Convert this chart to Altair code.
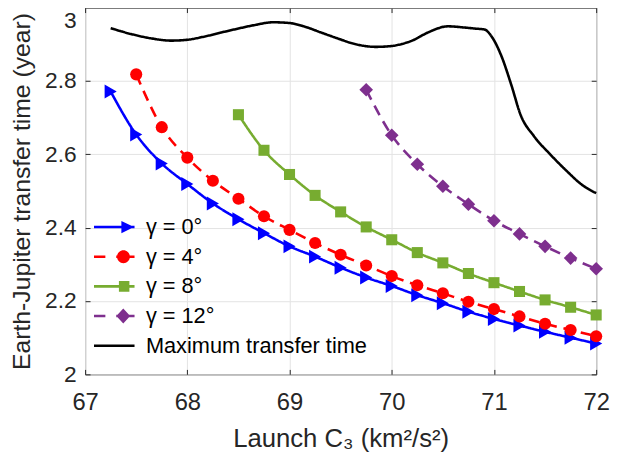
import altair as alt
import pandas as pd

FONT = "Liberation Sans"
INK = "#262626"

SERIES = ["γ = 0°", "γ = 4°", "γ = 8°", "γ = 12°", "Maximum transfer time"]
COLORS = ["#0000ff", "#ff0000", "#77ac30", "#7e2f8e", "#000000"]
DASHES = [[1, 0], [11, 7], [1, 0], [11, 7], [1, 0]]
SHAPES = ["triangle-right", "circle", "square", "diamond"]
SIZES = [200, 150, 125, 190]

x_ticks = [67, 68, 69, 70, 71, 72]
y_ticks = [2.0, 2.2, 2.4, 2.6, 2.8]
y_top_tick = [3.0]

g0_c3 = [67.25, 67.5, 67.75, 68.0, 68.25, 68.5, 68.75, 69.0, 69.25, 69.5,
         69.75, 70.0, 70.25, 70.5, 70.75, 71.0, 71.25, 71.5, 71.75, 72.0]
g0_t = [2.771, 2.654, 2.575, 2.519, 2.466, 2.423, 2.385, 2.349, 2.321, 2.291,
        2.264, 2.241, 2.216, 2.194, 2.171, 2.151, 2.133, 2.116, 2.100, 2.084]

g4_c3 = [67.5, 67.75, 68.0, 68.25, 68.5, 68.75, 69.0, 69.25, 69.5, 69.75,
         70.0, 70.25, 70.5, 70.75, 71.0, 71.25, 71.5, 71.75, 72.0]
g4_t = [2.818, 2.674, 2.591, 2.528, 2.479, 2.431, 2.394, 2.358, 2.326, 2.297,
        2.268, 2.243, 2.221, 2.198, 2.178, 2.158, 2.138, 2.121, 2.104]

g8_c3 = [68.5, 68.75, 69.0, 69.25, 69.5, 69.75, 70.0, 70.25, 70.5, 70.75,
         71.0, 71.25, 71.5, 71.75, 72.0]
g8_t = [2.708, 2.611, 2.545, 2.488, 2.443, 2.402, 2.367, 2.332, 2.304, 2.275,
        2.250, 2.226, 2.203, 2.183, 2.162]

g12_c3 = [69.75, 70.0, 70.25, 70.5, 70.75, 71.0, 71.25, 71.5, 71.75, 72.0]
g12_t = [2.776, 2.652, 2.573, 2.513, 2.464, 2.419, 2.383, 2.349, 2.317, 2.288]

max_c3 = [67.25, 67.45, 67.65, 67.84, 67.99, 68.15, 68.33, 68.5, 68.65, 68.84,
          69.0, 69.15, 69.3, 69.46, 69.65, 69.84, 69.99, 70.1, 70.2, 70.36,
          70.55, 70.7, 70.81, 70.91, 70.97, 71.07, 71.17, 71.26, 71.39, 71.55,
          71.71, 71.87, 72.0]
max_t = [2.944, 2.928, 2.916, 2.910, 2.912, 2.920, 2.932, 2.943, 2.952, 2.960,
         2.958, 2.948, 2.933, 2.917, 2.900, 2.893, 2.895, 2.901, 2.910, 2.933,
         2.949, 2.946, 2.943, 2.940, 2.924, 2.870, 2.789, 2.708, 2.650, 2.600,
         2.555, 2.515, 2.494]

rows = []
for name, xs, ys in [(SERIES[0], g0_c3, g0_t), (SERIES[1], g4_c3, g4_t),
                     (SERIES[2], g8_c3, g8_t), (SERIES[3], g12_c3, g12_t),
                     (SERIES[4], max_c3, max_t)]:
    for a, b in zip(xs, ys):
        rows.append({"series": name, "c3": a, "t": b})
df = pd.DataFrame(rows)

# legend symbols drawn as filled paths: line sample (thin bar, dashed where needed)
# plus marker, in units of sqrt(symbolSize)/2
BAR = "M-2.05,-0.13L2.05,-0.13L2.05,0.13L-2.05,0.13Z"
DASHBAR = "M-2.05,-0.13L-0.9,-0.13L-0.9,0.13L-2.05,0.13ZM0.2,-0.13L2.05,-0.13L2.05,0.13L0.2,0.13Z"
LEG_PATHS = [
    BAR + "M0.72,-0.62L2.0,0L0.72,0.62Z",
    DASHBAR + "M0.28,0A0.65,0.65,0,1,1,1.58,0A0.65,0.65,0,1,1,0.28,0Z",
    BAR + "M0.47,-0.54L1.53,-0.54L1.53,0.54L0.47,0.54Z",
    DASHBAR + "M0.91,-0.75L1.61,0L0.91,0.75L0.21,0Z",
    BAR,
]

legend = alt.Legend(
    title=None, orient="none", legendX=1, legendY=211, padding=0,
    labelFont=FONT, labelFontSize=22, labelColor="#000000", labelLimit=400,
    symbolSize=400, symbolStrokeWidth=0, symbolOffset=17.5, labelOffset=21,
    rowPadding=8, symbolOpacity=1,
)

x_scale = alt.Scale(domain=[67, 72], nice=False, zero=False)
y_scale = alt.Scale(domain=[2, 3], nice=False, zero=False)

x_axis = alt.Axis(values=x_ticks, format="d", title="Launch C₃ (km²/s²)", orient="bottom",
                  offset=-5, tickSize=5, tickColor=INK, tickWidth=1, domain=False,
                  grid=True, gridColor="#e3e3e3", gridWidth=1,
                  labelFont=FONT, labelFontSize=24, labelColor=INK, labelPadding=17,
                  labelFlush=False, labelOverlap=False,
                  titleFont=FONT, titleFontSize=26, titleFontWeight="normal",
                  titleColor=INK, titlePadding=11)
y_axis = alt.Axis(values=y_ticks, format=".1~f", title="Earth-Jupiter transfer time (year)",
                  orient="left", offset=-5, tickSize=5, tickColor=INK, tickWidth=1,
                  domain=False, grid=True, gridColor="#e3e3e3", gridWidth=1,
                  labelFont=FONT, labelFontSize=23, labelColor=INK, labelPadding=9,
                  labelOverlap=False,
                  titleFont=FONT, titleFontSize=25, titleFontWeight="normal",
                  titleColor=INK, titlePadding=10)
# the top label "3", nudged down a little so it is not cut by the page edge
y_axis_top = alt.Axis(values=y_top_tick, format=".1~f", title=None, orient="left",
                      offset=-5, tickSize=5, tickOpacity=0, domain=False, grid=False,
                      labelFont=FONT, labelFontSize=23, labelColor=INK, labelPadding=9,
                      labelOverlap=False, labelOffset=13)

x_axis2 = alt.Axis(values=x_ticks, orient="top", offset=-5, tickSize=5, tickColor=INK,
                   labels=False, domain=False, grid=False, title=None)
y_axis2 = alt.Axis(values=y_ticks, orient="right", offset=-5, tickSize=5, tickColor=INK,
                   labels=False, domain=False, grid=False, title=None)

# invisible (size 0) layer that carries the legend and the inner ticks of top/right
legend_layer = alt.Chart(df).mark_point(filled=True, size=0, opacity=1).encode(
    x=alt.X("c3:Q", scale=x_scale, axis=x_axis2),
    y=alt.Y("t:Q", scale=y_scale, axis=y_axis2),
    color=alt.Color("series:N", scale=alt.Scale(domain=SERIES, range=COLORS), legend=legend),
    shape=alt.Shape("series:N", scale=alt.Scale(domain=SERIES, range=LEG_PATHS), legend=legend),
)

lines = alt.Chart(df).mark_line(strokeWidth=2.6, interpolate="monotone").encode(
    x=alt.X("c3:Q", scale=x_scale, axis=x_axis),
    y=alt.Y("t:Q", scale=y_scale, axis=y_axis),
    stroke=alt.Stroke("series:N", scale=alt.Scale(domain=SERIES, range=COLORS), legend=None),
    strokeDash=alt.StrokeDash("series:N", scale=alt.Scale(domain=SERIES, range=DASHES), legend=None),
)

point_layers = []
for i in range(4):
    point_layers.append(
        alt.Chart(df).transform_filter(alt.datum.series == SERIES[i]).mark_point(
            filled=True, opacity=1, strokeWidth=0, shape=SHAPES[i],
            size=SIZES[i], color=COLORS[i],
        ).encode(
            x=alt.X("c3:Q", scale=x_scale, axis=None),
            y=alt.Y("t:Q", scale=y_scale, axis=(y_axis_top if i == 0 else None)),
        )
    )

chart = alt.layer(legend_layer, lines, *point_layers).resolve_axis(
    x="independent", y="independent"
).properties(
    width=517, height=371,
    autosize=alt.AutoSizeParams(type="none"),
    padding={"left": 78, "top": -3, "right": 15, "bottom": 82},
    background="white",
).configure_view(stroke=INK, strokeWidth=1)

chart.save("out.html", embed_options={"renderer": "svg", "actions": False})
